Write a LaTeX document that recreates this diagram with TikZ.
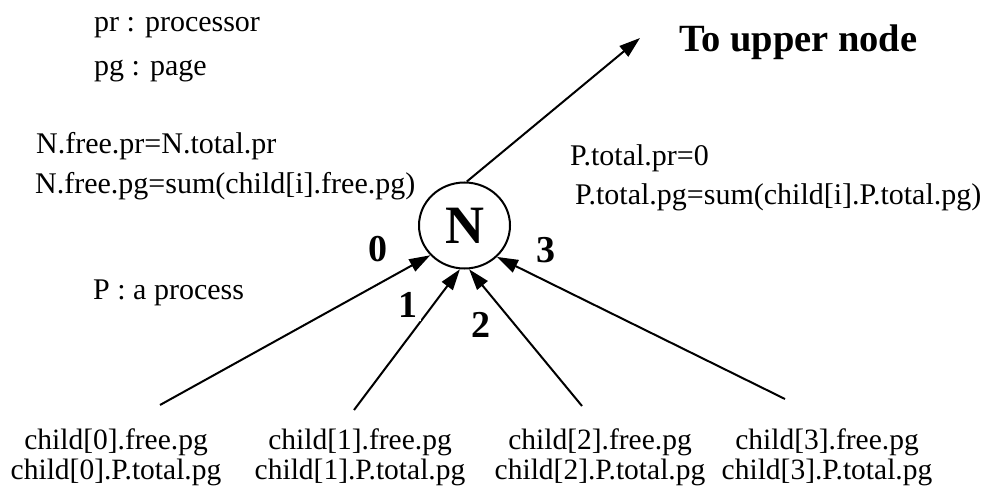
\documentclass[tikz,border=0pt]{standalone}
\usepackage{fontspec}
\setmainfont{Liberation Serif}
\usetikzlibrary{arrows.meta,shapes.geometric}

\begin{document}
\begin{tikzpicture}[x=1pt,y=-1pt,
  txt/.style={anchor=base west,inner sep=0pt,font=\fontsize{30}{30}\selectfont},
  kid/.style={anchor=north,inner sep=0pt,align=center,font=\fontsize{29.5}{30}\selectfont},
  lbl/.style={fill=white,inner sep=3pt,font=\fontsize{38}{38}\selectfont\bfseries},
  link/.style={line width=2pt,-{Triangle[length=21pt,width=13.5pt]}}]
  \useasboundingbox (0,0) rectangle (988,489);
  % legend and formulas
  \node[txt] (prdef) at (94,32) {pr : processor};
  \node[txt] (pgdef) at (94,76) {pg : page};
  \node[txt] (nfpr) at (36,154) {N.free.pr=N.total.pr};
  \node[txt] (nfpg) at (35,194) {N.free.pg=sum(child[i].free.pg)};
  \node[txt] (ptpr) at (570,166) {P.total.pr=0};
  \node[txt] (ptpg) at (575,205) {P.total.pg=sum(child[i].P.total.pg)};
  \node[txt] (pdef) at (93,299) {P : a process};
  \node[txt,font=\fontsize{38.5}{38.5}\selectfont\bfseries] (upper) at (679,52) {To upper node};
  % the node
  \node[ellipse,draw,line width=2pt,minimum width=91,minimum height=86,inner sep=0pt,
        font=\fontsize{54}{54}\selectfont\bfseries] (N) at (464.5,225.5) {N};
  % children
  \node[kid] (c0) at (116,429) {child[0].free.pg\\child[0].P.total.pg};
  \node[kid] (c1) at (360,429) {child[1].free.pg\\child[1].P.total.pg};
  \node[kid] (c2) at (600,429) {child[2].free.pg\\child[2].P.total.pg};
  \node[kid] (c3) at (827,429) {child[3].free.pg\\child[3].P.total.pg};
  \coordinate (s0) at (160,405); \coordinate (s1) at (354,410);
  \coordinate (s2) at (582,406); \coordinate (s3) at (785,399);
  \coordinate (up) at (640,38);
  \draw[link] (s0) -- (N.221);
  \draw[link] (s1) -- (N.264);
  \draw[link] (s2) -- (N.276);
  \draw[link] (s3) -- (N.316);
  \draw[link] (N.87) -- (up);
  \node[lbl] (l0) at (378,249) {0};
  \node[lbl] (l1) at (408,305) {1};
  \node[lbl] (l2) at (481,325) {2};
  \node[lbl] (l3) at (546,250) {3};
\end{tikzpicture}
\end{document}
